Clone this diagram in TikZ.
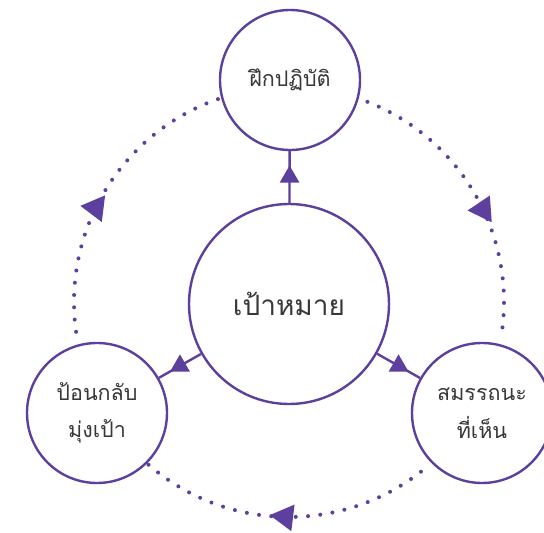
\documentclass[tikz,border=0pt]{standalone}
\usepackage{fontspec}
\newfontfamily\thai[Script=Thai]{Loma}
\usetikzlibrary{shapes.geometric}
\definecolor{cyc}{RGB}{93,64,158}
\definecolor{ink}{RGB}{56,56,56}
\begin{document}
\begin{tikzpicture}[x=1pt,y=1pt,
  ring/.style={circle,draw=cyc,line width=2.4pt,fill=white,inner sep=0pt,text=ink,align=center},
  goal/.style={ring,minimum size=200pt,font=\thai\fontsize{28}{34}\selectfont},
  stage/.style={ring,minimum size=140pt,font=\thai\fontsize{21.5}{37.5}\selectfont},
  link/.style={draw=cyc,line width=2.4pt},
  midtri/.style={regular polygon,regular polygon sides=3,fill=cyc,minimum size=23pt,inner sep=0pt},
  looptri/.style={regular polygon,regular polygon sides=3,fill=cyc,minimum size=31pt,inner sep=0pt},
  dots/.style={draw=cyc,line width=4pt,line cap=round,dash pattern=on 0pt off 12.3pt}]
\useasboundingbox (0,0) rectangle (544,533);
\fill[white] (0,0) rectangle (544,533);

% centre of the dotted cycle
\coordinate (O) at (289,231);

% dotted cycle arcs
\draw[dots] ([shift={(109.3:215)}]O) arc[start angle=109.3, end angle=189.7, radius=215];
\draw[dots] ([shift={(68.6:215)}]O) arc[start angle=68.6, end angle=-8, radius=215];
\draw[dots] ([shift={(229.2:215)}]O) arc[start angle=229.2, end angle=309.4, radius=215];

% circles
\node[goal] (goal) at (289,229) {เป้าหมาย};
\node[stage] (practice) at (290,453) {ฝึกปฏิบัติ};
\node[stage] (skill) at (482,120) {สมรรถนะ\\ที่เห็น};
\node[stage] (feedback) at (97,120) {ป้อนกลับ\\มุ่งเป้า};

% spokes from the goal
\draw[link] (goal) -- node[midtri]{} (practice);
\draw[link] (goal) -- node[midtri]{} (skill);
\draw[link] (goal) -- node[midtri]{} (feedback);

% arrowheads on the cycle
\node[looptri, shape border rotate=83] at ([shift={(154:215)}]O) {};
\node[looptri, shape border rotate=94] at ([shift={(25.5:215)}]O) {};
\node[looptri, shape border rotate=83] at ([shift={(269:215)}]O) {};
\end{tikzpicture}
\end{document}
